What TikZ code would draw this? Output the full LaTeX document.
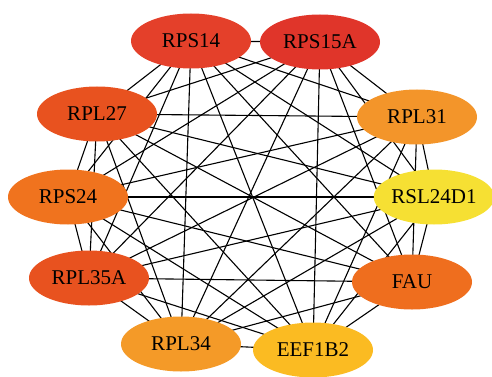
\documentclass[tikz,border=0pt]{standalone}
\usepackage{fontspec}
\setmainfont{Liberation Serif}
\usetikzlibrary{shapes.geometric,backgrounds}
\definecolor{cRPSa}{HTML}{E4402A}
\definecolor{cRPSb}{HTML}{E0352A}
\definecolor{cRPLa}{HTML}{E8521F}
\definecolor{cRPLb}{HTML}{F3952A}
\definecolor{cRPSc}{HTML}{F0731E}
\definecolor{cRSL}{HTML}{F6E033}
\definecolor{cRPLc}{HTML}{E8521F}
\definecolor{cFAU}{HTML}{EF6E1E}
\definecolor{cRPLd}{HTML}{F49A28}
\definecolor{cEEF}{HTML}{FBBB22}
\tikzset{gene/.style={ellipse,minimum width=120pt,minimum height=55pt,inner sep=0pt,font=\fontsize{21}{24}\selectfont}}

\begin{document}
\begin{tikzpicture}[x=1pt,y=-1pt]
\useasboundingbox (0,0) rectangle (492,377);
\node[gene,fill=cRPSa] at (191,41) (rps14){RPS14};
\node[gene,fill=cRPSb] at (320,42) (rps15a){RPS15A};
\node[gene,fill=cRPLa] at (97,114) (rpl27){RPL27};
\node[gene,fill=cRPLb] at (417,117) (rpl31){RPL31};
\node[gene,fill=cRPSc] at (68,197) (rps24){RPS24};
\node[gene,fill=cRSL] at (434,197) (rsl24d1){RSL24D1};
\node[gene,fill=cRPLc] at (89,278) (rpl35a){RPL35A};
\node[gene,fill=cFAU] at (412,282) (fau){FAU};
\node[gene,fill=cRPLd] at (181,344) (rpl34){RPL34};
\node[gene,fill=cEEF] at (313,350) (eef1b2){EEF1B2};
% every gene is linked to every other one
\begin{scope}[on background layer]
\foreach \a [count=\i] in {rps14,rps15a,rpl31,rsl24d1,fau,eef1b2,rpl34,rpl35a,rps24,rpl27}{
  \foreach \b [count=\j] in {rps14,rps15a,rpl31,rsl24d1,fau,eef1b2,rpl34,rpl35a,rps24,rpl27}{
    \ifnum\j>\i \draw[line width=1.1pt] (\a.center) -- (\b.center);\fi
  }
}
\end{scope}
\end{tikzpicture}
\end{document}
